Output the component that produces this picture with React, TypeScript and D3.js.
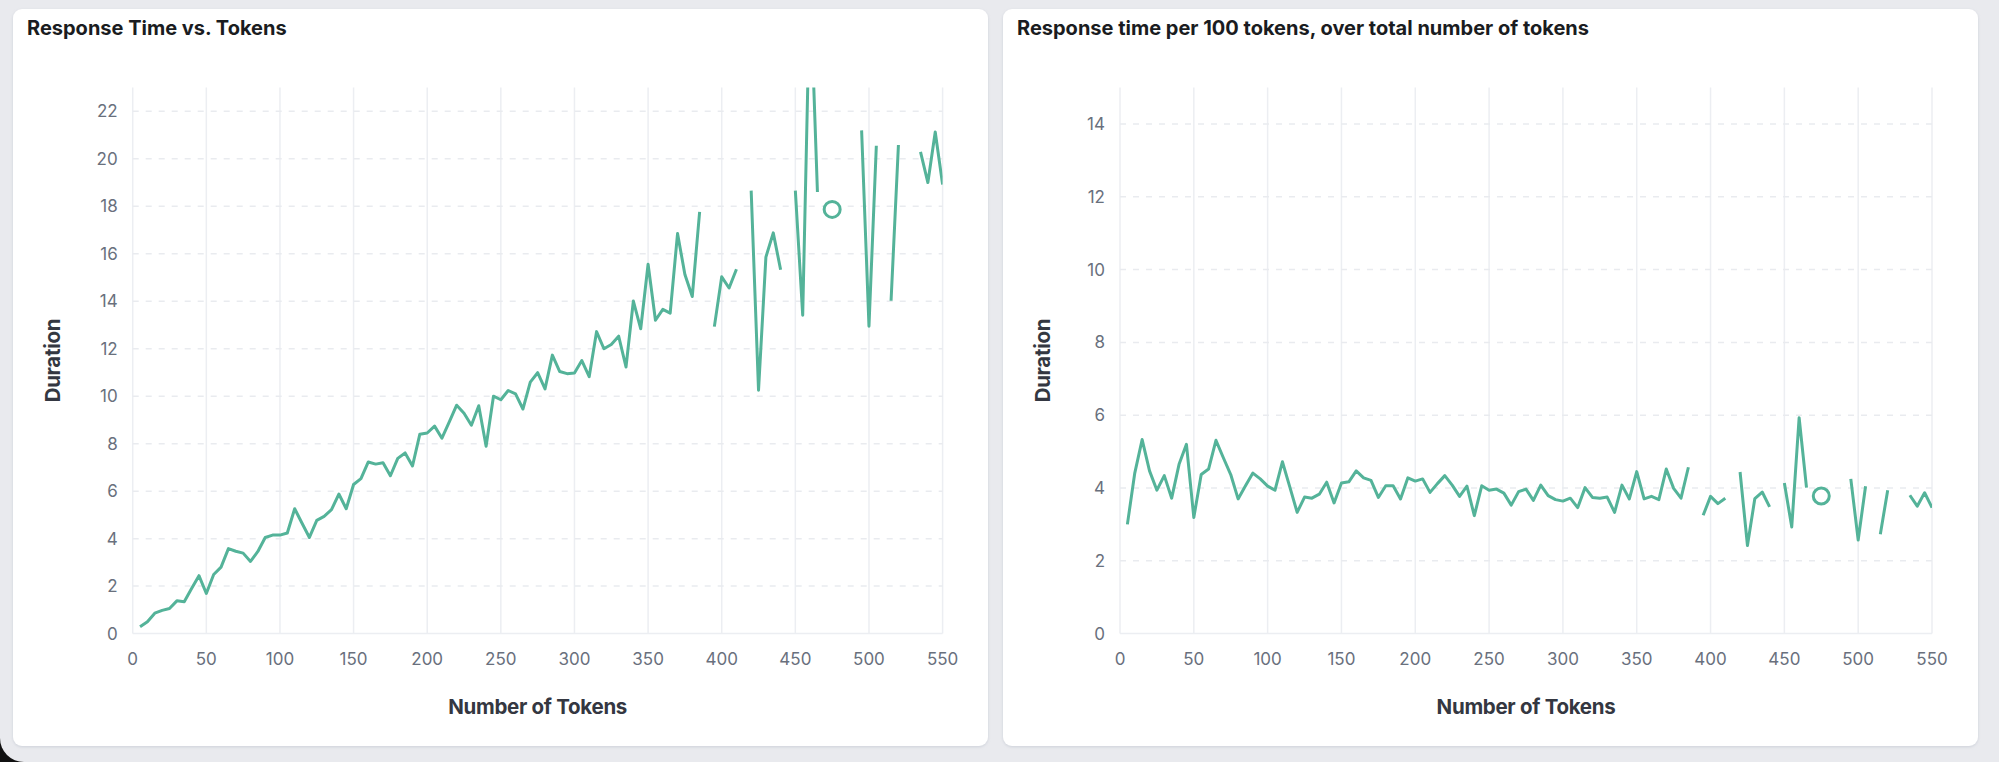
import { useMemo } from "react";
import * as d3 from "d3";

// token buckets (x) and the two series
const tokens = [
  5, 10, 15, 20, 25, 30, 35, 40, 45, 50,
  55, 60, 65, 70, 75, 80, 85, 90, 95, 100,
  105, 110, 115, 120, 125, 130, 135, 140, 145, 150,
  155, 160, 165, 170, 175, 180, 185, 190, 195, 200,
  205, 210, 215, 220, 225, 230, 235, 240, 245, 250,
  255, 260, 265, 270, 275, 280, 285, 290, 295, 300,
  305, 310, 315, 320, 325, 330, 335, 340, 345, 350,
  355, 360, 365, 370, 375, 380, 385, 390, 395, 400,
  405, 410, 415, 420, 425, 430, 435, 440, 445, 450,
  455, 460, 465, 470, 475, 480, 485, 490, 495, 500,
  505, 510, 515, 520, 525, 530, 535, 540, 545, 550,
];

const duration: (number | null)[] = [
  0.29, 0.5, 0.86, 0.98, 1.06, 1.38, 1.34, 1.9, 2.44, 1.69,
  2.49, 2.8, 3.58, 3.47, 3.39, 3.04, 3.46, 4.05, 4.15, 4.15,
  4.24, 5.26, 4.65, 4.05, 4.77, 4.94, 5.22, 5.88, 5.26, 6.28,
  6.53, 7.23, 7.14, 7.2, 6.65, 7.38, 7.61, 7.06, 8.4, 8.45,
  8.74, 8.23, 8.92, 9.62, 9.28, 8.78, 9.6, 7.89, 10.0, 9.85,
  10.24, 10.1, 9.46, 10.59, 10.99, 10.31, 11.73, 11.04, 10.95, 10.98,
  11.5, 10.82, 12.72, 12.0, 12.18, 12.53, 11.23, 14.01, 12.84, 15.56,
  13.2, 13.66, 13.5, 16.85, 15.13, 14.2, 17.77, null, 12.93, 15.03,
  14.56, 15.35, null, 18.66, 10.25, 15.86, 16.88, 15.33, null, 18.66,
  13.41, 27.5, 18.6, null, 17.87, null, null, null, 21.2, 12.95,
  20.55, null, 14.02, 20.58, null, null, 20.29, 19.0, 21.13, 18.92,
];

const durationPer100: (number | null)[] = [
  3.0, 4.41, 5.33, 4.47, 3.94, 4.34, 3.72, 4.65, 5.2, 3.19,
  4.37, 4.52, 5.31, 4.83, 4.37, 3.7, 4.06, 4.41, 4.25, 4.05,
  3.94, 4.72, 4.03, 3.33, 3.75, 3.72, 3.83, 4.16, 3.59, 4.14,
  4.17, 4.47, 4.28, 4.21, 3.74, 4.06, 4.06, 3.7, 4.28, 4.19,
  4.25, 3.88, 4.12, 4.34, 4.08, 3.77, 4.05, 3.24, 4.06, 3.94,
  3.97, 3.86, 3.53, 3.9, 3.97, 3.66, 4.08, 3.79, 3.68, 3.64,
  3.72, 3.46, 4.01, 3.74, 3.72, 3.75, 3.33, 4.08, 3.7, 4.45,
  3.7, 3.77, 3.68, 4.52, 3.99, 3.72, 4.57, null, 3.25, 3.77,
  3.57, 3.72, null, 4.44, 2.42, 3.71, 3.89, 3.48, null, 4.14,
  2.93, 5.93, 4.01, null, 3.78, null, null, null, 4.25, 2.57,
  4.05, null, 2.73, 3.94, null, null, 3.8, 3.5, 3.87, 3.46,
];

const xTicks = [0, 50, 100, 150, 200, 250, 300, 350, 400, 450, 500, 550];
const yTicksLeft = [0, 2, 4, 6, 8, 10, 12, 14, 16, 18, 20, 22];
const yTicksRight = [0, 2, 4, 6, 8, 10, 12, 14];

const W = 1999;
const H = 762;
const GREEN = "#54b399";
const FONT = "Inter, 'Noto Sans', sans-serif";

type Pt = { x: number; y: number | null };

function Panel({
  id,
  cardX,
  cardW,
  title,
  titleX,
  plotLeft,
  plotRight,
  yMax,
  yTicks,
  yTitleX,
  values,
}: {
  id: string;
  cardX: number;
  cardW: number;
  title: string;
  titleX: number;
  plotLeft: number;
  plotRight: number;
  yMax: number;
  yTicks: number[];
  yTitleX: number;
  values: (number | null)[];
}) {
  const top = 87.6;
  const bottom = 633.6;
  const x = d3.scaleLinear().domain([0, 550]).range([plotLeft, plotRight]);
  const y = d3.scaleLinear().domain([0, yMax]).range([bottom, top]);

  const pts: Pt[] = useMemo(
    () => tokens.map((t, i) => ({ x: t, y: values[i] })),
    [values],
  );

  const line = d3
    .line<Pt>()
    .defined((d) => d.y !== null)
    .x((d) => x(d.x))
    .y((d) => y(d.y as number));

  // points with no defined neighbour get drawn as a dot
  const lonely = pts.filter(
    (d, i) =>
      d.y !== null &&
      (i === 0 || pts[i - 1].y === null) &&
      (i === pts.length - 1 || pts[i + 1].y === null),
  );

  return (
    <g>
      <rect
        x={cardX}
        y={9}
        width={cardW}
        height={737}
        rx={9}
        fill="#fff"
        filter="url(#shadow)"
      />
      <text
        x={titleX}
        y={35}
        fontFamily={FONT}
        fontWeight={700}
        fontSize={20}
        fill="#1a1c21"
      >
        {title}
      </text>

      {xTicks.map((t) => (
        <line
          key={"vx" + t}
          x1={x(t)}
          x2={x(t)}
          y1={top}
          y2={bottom}
          stroke="#eceef2"
          strokeWidth={1.5}
        />
      ))}
      {yTicks
        .filter((t) => t > 0)
        .map((t) => (
          <line
            key={"hy" + t}
            x1={plotLeft}
            x2={plotRight}
            y1={y(t)}
            y2={y(t)}
            stroke="#e9ebef"
            strokeWidth={1.5}
            strokeDasharray="6,7"
          />
        ))}
      <line
        x1={plotLeft}
        x2={plotRight}
        y1={bottom}
        y2={bottom}
        stroke="#eceef2"
        strokeWidth={1.5}
      />

      {yTicks.map((t) => (
        <text
          key={"yl" + t}
          x={plotLeft - 15}
          y={y(t)}
          textAnchor="end"
          dominantBaseline="central"
          fontFamily={FONT}
          fontSize={17}
          fill="#69707d"
        >
          {t}
        </text>
      ))}
      {xTicks.map((t) => (
        <text
          key={"xl" + t}
          x={x(t)}
          y={659}
          textAnchor="middle"
          dominantBaseline="central"
          fontFamily={FONT}
          fontSize={17}
          fill="#69707d"
        >
          {t}
        </text>
      ))}

      <text
        x={(plotLeft + plotRight) / 2}
        y={706}
        textAnchor="middle"
        dominantBaseline="central"
        fontFamily={FONT}
        fontWeight={700}
        fontSize={20.5}
        letterSpacing={-0.3}
        fill="#343741"
      >
        Number of Tokens
      </text>
      <text
        transform={`translate(${yTitleX},${(top + bottom) / 2}) rotate(-90)`}
        textAnchor="middle"
        dominantBaseline="central"
        fontFamily={FONT}
        fontWeight={700}
        fontSize={20.5}
        letterSpacing={-0.3}
        fill="#343741"
      >
        Duration
      </text>

      <clipPath id={"clip-" + id}>
        <rect x={plotLeft} y={top} width={plotRight - plotLeft} height={bottom - top} />
      </clipPath>
      <g clipPath={`url(#clip-${id})`}>
        <path
          d={line(pts) ?? ""}
          fill="none"
          stroke={GREEN}
          strokeWidth={3}
          strokeLinejoin="round"
        />
      </g>
      {lonely.map((d) => (
        <circle
          key={"pt" + d.x}
          cx={x(d.x)}
          cy={y(d.y as number)}
          r={8}
          fill="#fff"
          stroke={GREEN}
          strokeWidth={3}
        />
      ))}
    </g>
  );
}

export default function App() {
  return (
    <div style={{ position: "fixed", left: 0, top: 0 }}>
      <svg width={W} height={H} style={{ display: "block" }}>
        <defs>
          <filter id="shadow" x="-5%" y="-5%" width="110%" height="110%">
            <feDropShadow dx={0} dy={1} stdDeviation={1.5} floodColor="#98a2b3" floodOpacity={0.35} />
          </filter>
        </defs>
        <rect width={W} height={H} fill="#111" />
        <path
          d={`M0,0 H${W} V${H} H24 A24,24 0 0 1 0,${H - 24} Z`}
          fill="#e9eaee"
        />
        <Panel
          id="left"
          cardX={13}
          cardW={975}
          title="Response Time vs. Tokens"
          titleX={27}
          plotLeft={132.7}
          plotRight={942.6}
          yMax={23}
          yTicks={yTicksLeft}
          yTitleX={52}
          values={duration}
        />
        <Panel
          id="right"
          cardX={1003}
          cardW={975}
          title="Response time per 100 tokens, over total number of tokens"
          titleX={1017}
          plotLeft={1120}
          plotRight={1932}
          yMax={15}
          yTicks={yTicksRight}
          yTitleX={1042}
          values={durationPer100}
        />
      </svg>
    </div>
  );
}
